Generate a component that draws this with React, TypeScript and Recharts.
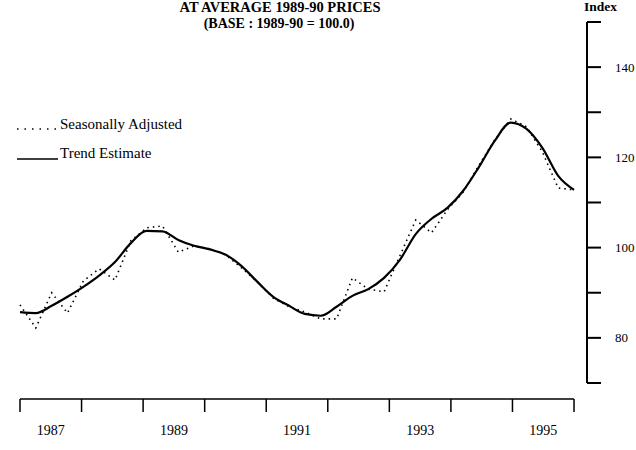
import { LineChart, Line, XAxis, YAxis, ReferenceLine } from 'recharts';

// quarterly values, 1987 to 1995
const quarters = [
  'Mar-87', 'Jun-87', 'Sep-87', 'Dec-87', 'Mar-88', 'Jun-88', 'Sep-88', 'Dec-88',
  'Mar-89', 'Jun-89', 'Sep-89', 'Dec-89', 'Mar-90', 'Jun-90', 'Sep-90', 'Dec-90',
  'Mar-91', 'Jun-91', 'Sep-91', 'Dec-91', 'Mar-92', 'Jun-92', 'Sep-92', 'Dec-92',
  'Mar-93', 'Jun-93', 'Sep-93', 'Dec-93', 'Mar-94', 'Jun-94', 'Sep-94', 'Dec-94',
  'Mar-95', 'Jun-95', 'Sep-95', 'Dec-95',
];
const seasonallyAdjusted = [
  87.3, 82.2, 90.0, 85.5, 92.6, 95.3, 92.8, 101.5, 104.4, 104.8, 99.0, 100.4,
  99.7, 98.4, 95.5, 92.4, 88.8, 86.9, 85.7, 84.2, 84.2, 93.3, 90.8, 90.2,
  98.2, 106.1, 103.3, 108.4, 112.3, 118.3, 123.9, 128.5, 126.8, 121.2, 113.2, 112.8,
];
const trendEstimate = [
  85.7, 85.5, 87.1, 89.1, 91.3, 93.8, 96.8, 101.0, 103.7, 103.6, 101.7, 100.4,
  99.6, 98.4, 95.9, 92.4, 89.1, 87.1, 85.3, 84.9, 86.9, 89.3, 90.8, 93.3,
  97.3, 103.0, 106.4, 108.8, 112.6, 117.9, 123.7, 127.7, 126.3, 122.1, 115.9, 112.8,
];
const yearLabels = ['1987', '', '1989', '', '1991', '', '1993', '', '1995', ''];
const indexTicks = [70, 80, 90, 100, 110, 120, 130, 140, 150];
const indexLabels = [80, 100, 120, 140];

const last = quarters.length - 1;
const data = quarters.map((q, i) => ({ q, i, sa: seasonallyAdjusted[i], trend: trendEstimate[i] }));
const yearTicks = yearLabels.map((_, k) => (k * last) / (yearLabels.length - 1));
const xMax = 35.82;
const yMin = 66.45;

const serif = '"Liberation Serif", "DejaVu Serif", serif';

function YearTick(props: any) {
  const { x, y, payload, index } = props;
  const k = payload?.index ?? index;
  const label = yearLabels[k];
  if (!label) return null;
  return (
    <text x={x + 30.8} y={y} dy="0.71em" textAnchor="middle" fontFamily={serif} fontSize={14} fill="#000">
      {label}
    </text>
  );
}

export default function App() {
  return (
    <div style={{ position: 'absolute', left: 0, top: 0, width: 636, height: 450, background: '#fff' }}>
      <LineChart width={636} height={450} data={data} margin={{ top: 22, right: 0, left: 20, bottom: 0 }}>
        <XAxis
          dataKey="i"
          type="number"
          domain={[0, xMax]}
          ticks={yearTicks}
          interval={0}
          height={51}
          axisLine={false}
          tickLine={{ stroke: '#000', strokeWidth: 1.5 }}
          tickSize={13}
          tickMargin={13}
          tick={<YearTick />}
        />
        <YAxis
          orientation="right"
          type="number"
          domain={[yMin, 150]}
          ticks={indexTicks}
          interval={0}
          width={49}
          axisLine={false}
          tickLine={{ stroke: '#000', strokeWidth: 2 }}
          tickSize={14}
          tickMargin={14}
          tickFormatter={(v: number) => (indexLabels.includes(v) ? String(v) : '')}
          tick={{ fill: '#000', fontFamily: serif, fontSize: 13, textAnchor: 'start' }}
        />
        <ReferenceLine segment={[{ x: 0, y: yMin }, { x: last, y: yMin }]} stroke="#000" strokeWidth={1.5} />
        <ReferenceLine segment={[{ x: xMax, y: 70 }, { x: xMax, y: 150 }]} stroke="#000" strokeWidth={2} />
        <Line
          dataKey="sa"
          type="linear"
          stroke="#000"
          strokeWidth={1.6}
          strokeDasharray="1.5 4"
          dot={false}
          isAnimationActive={false}
        />
        <Line
          dataKey="trend"
          type="monotone"
          stroke="#000"
          strokeWidth={2.2}
          dot={false}
          isAnimationActive={false}
        />
      </LineChart>
      <svg width={636} height={450} style={{ position: 'absolute', left: 0, top: 0, pointerEvents: 'none' }}>
        <text x={280} y={12} textAnchor="middle" fontFamily={serif} fontWeight="bold" fontSize={14.5}>
          AT AVERAGE 1989-90 PRICES
        </text>
        <text x={279} y={28} textAnchor="middle" fontFamily={serif} fontWeight="bold" fontSize={14}>
          (BASE : 1989-90 = 100.0)
        </text>
        <text x={584} y={11} fontFamily={serif} fontWeight="bold" fontSize={13.5}>
          Index
        </text>
        <line x1={17} y1={129} x2={56} y2={129} stroke="#000" strokeWidth={1.6} strokeDasharray="1.5 6" />
        <text x={60} y={129} fontFamily={serif} fontSize={15}>
          Seasonally Adjusted
        </text>
        <line x1={17} y1={159} x2={58} y2={159} stroke="#000" strokeWidth={1.4} />
        <text x={60} y={158} fontFamily={serif} fontSize={15}>
          Trend Estimate
        </text>
      </svg>
    </div>
  );
}
